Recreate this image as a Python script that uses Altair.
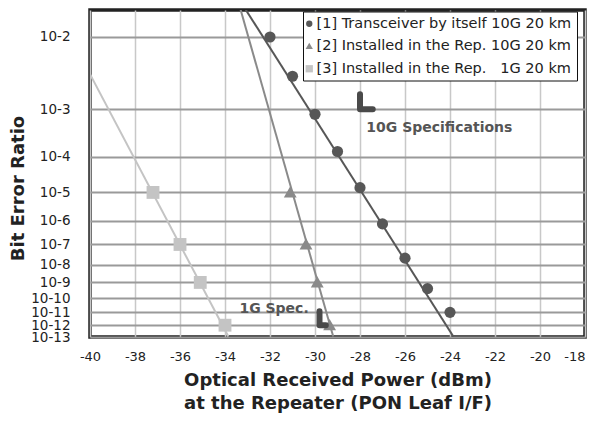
import altair as alt
import pandas as pd

FONT = "DejaVu Sans"

# ---- data (x in dBm, BER as log10 exponent) ----
series_names = [
    "[1] Transceiver by itself 10G 20 km",
    "[2] Installed in the Rep. 10G 20 km",
    "[3] Installed in the Rep.\u00a0\u00a0\u00a01G 20 km",
]
series_colors = ["#575757", "#8a8a8a", "#c4c4c4"]
series_shapes = ["circle", "M0,-1.1L1.15,0.9L-1.15,0.9Z", "M-1.15,-1.15H1.15V1.15H-1.15Z"]

x1 = [-32, -31, -30, -29, -28, -27, -26, -25, -24]
ber1 = [-2.0, -2.48, -3.09, -3.87, -4.85, -6.12, -7.66, -9.38, -11.0]
x2 = [-31.1, -30.4, -29.9, -29.35]
ber2 = [-5, -7, -9, -12]
x3 = [-37.2, -36.0, -35.1, -34.0]
ber3 = [-5, -7, -9, -12]

# fitted straight lines (endpoints)
fit1_x = [-33.2, -23.85]
fit1_ber = [-1.70, -12.96]
fit2_x = [-33.36, -29.19]
fit2_ber = [-1.70, -12.96]
fit3_x = [-40.0, -33.85]
fit3_ber = [-2.45, -12.96]

# specification marks
spec10_x, spec10_ber = [-28.0], [-3.0]
spec1_x, spec1_ber = [-29.8], [-12.0]
note_text = ["10G Specifications", "1G Spec."]
note_x = [-27.72, -33.36]
note_ber = [-3.36, -10.77]

x_ticks = list(range(-40, -17, 2))
y_tick_exp = list(range(2, 14))

# ---- tables ----
pts = pd.DataFrame({
    "x": x1 + x2 + x3,
    "ber": ber1 + ber2 + ber3,
    "series": [series_names[0]] * len(x1) + [series_names[1]] * len(x2) + [series_names[2]] * len(x3),
})
fit_sets = [(fit1_x, fit1_ber), (fit2_x, fit2_ber), (fit3_x, fit3_ber)]
spec10 = pd.DataFrame({"x": spec10_x, "ber": spec10_ber})
spec1 = pd.DataFrame({"x": spec1_x, "ber": spec1_ber})
notes = pd.DataFrame({"x": note_x, "ber": note_ber, "text": note_text})

W, H = 495, 327

xenc = alt.X(
    "x:Q",
    scale=alt.Scale(domain=[-40, -18], nice=False, zero=False),
    axis=alt.Axis(
        values=x_ticks, grid=True, gridColor="#c8c8c8", gridWidth=1.5,
        ticks=False, domain=False, labelFlush=False,
        labelExpr="'' + datum.value",
        labelAlign={"condition": {"test": "datum.value == -18", "value": "right"}, "value": "center"},
        labelFont=FONT, labelFontSize=13, labelColor="#222", labelPadding=13,
        title=["Optical Received Power (dBm)", "at the Repeater (PON Leaf I/F)"],
        titleFont=FONT, titleFontSize=18, titleFontWeight="bold", titleColor="#222",
        titlePadding=8, titleLineHeight=23,
    ),
)
yenc = alt.Y(
    "yv:Q",
    scale=alt.Scale(type="log", domain=[1.2396, 12.5], reverse=True, nice=False),
    axis=alt.Axis(
        values=[n - 0.5 for n in y_tick_exp],
        labelExpr="'10-' + (datum.value + 0.5)",
        grid=True, gridColor="#9a9a9a", gridWidth=2,
        ticks=False, domain=False, labelOverlap=False,
        labelFont=FONT, labelFontSize=13.5, labelColor="#222", labelPadding=20,
        title="Bit Error Ratio", titleFont=FONT, titleFontSize=18,
        titleFontWeight="bold", titleColor="#222",
        titleX=-72, titleY=178, titleBaseline="middle", titleAlign="center",
    ),
)

calc = {"yv": "-datum.ber - 0.5"}

leg = alt.Legend(
    title=None, orient="none", legendX=213, legendY=1.5,
    fillColor="white", strokeColor="#111", padding=5,
    symbolSize=40, symbolStrokeWidth=0, symbolOffset=-6,
    labelFont=FONT, labelFontSize=14.5,
    labelColor="#222", rowPadding=7.5, labelOffset=0, labelLimit=400,
)

line_layers = []
for (fx, fb), col in zip(fit_sets, series_colors):
    df = pd.DataFrame({"x": fx, "ber": fb})
    line_layers.append(
        alt.Chart(df).transform_calculate(**calc)
        .mark_line(clip=True, strokeWidth=2, color=col)
        .encode(x=xenc, y=yenc)
    )

points = alt.Chart(pts).transform_calculate(**calc).mark_point(
    filled=True, opacity=1, strokeWidth=0, size=125
).encode(
    x=xenc, y=yenc,
    color=alt.Color("series:N", scale=alt.Scale(domain=series_names, range=series_colors), legend=leg),
    shape=alt.Shape("series:N", scale=alt.Scale(domain=series_names, range=series_shapes), legend=leg),
)

spec10_mark = alt.Chart(spec10).transform_calculate(**calc).mark_point(
    shape="M0,-1L0,0L0.85,0", filled=False, stroke="#4a4a4a", strokeWidth=6,
    strokeCap="round", strokeJoin="round", size=900, opacity=1,
).encode(x=xenc, y=yenc)

spec1_mark = alt.Chart(spec1).transform_calculate(**calc).mark_point(
    shape="M0,-1L0,0L0.45,0", filled=False, stroke="#4a4a4a", strokeWidth=6,
    strokeCap="round", strokeJoin="round", size=784, opacity=1,
).encode(x=xenc, y=yenc)

texts = alt.Chart(notes).transform_calculate(**calc).mark_text(
    align="left", baseline="middle", font=FONT, fontSize=14, fontWeight="bold", color="#555",
).encode(x=xenc, y=yenc, text="text:N")

chart = alt.layer(*line_layers, points, spec10_mark, spec1_mark, texts).properties(
    width=W, height=H,
    background="white",
    autosize=alt.AutoSizeParams(type="none"),
    padding={"left": 82, "top": 2, "right": 2, "bottom": 76},
).configure_view(stroke="#222", strokeWidth=3.5)

chart.save("out.html", embed_options={"renderer": "svg", "actions": False})
